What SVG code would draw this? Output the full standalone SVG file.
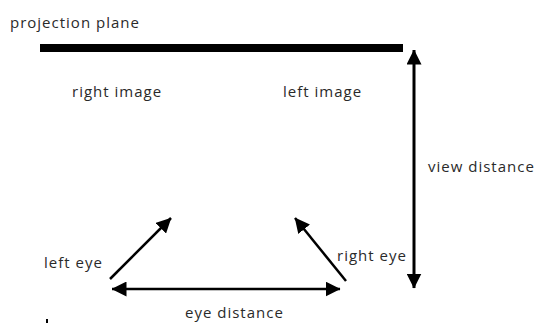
<svg xmlns="http://www.w3.org/2000/svg" width="537" height="323" viewBox="0 0 537 323">
<style>
text{font-family:"Open Sans","DejaVu Sans",sans-serif;font-size:15px;letter-spacing:1px;fill:#2a2a2a}
.c{stroke:#000;stroke-width:2.5;fill:none}
</style>
<defs>
<marker id="ah" markerWidth="15" markerHeight="15" viewBox="0 0 15 15" refX="14.5" refY="7.5" orient="auto-start-reverse" markerUnits="userSpaceOnUse"><path d="M0,0 L15,7.5 L0,15 Z" fill="#000"/></marker>
</defs>
<rect width="537" height="323" fill="#fff"/>
<g id="plane"><rect x="40" y="44" width="363" height="8" fill="#000"/><text x="10" y="28">projection plane</text></g>
<g id="right-image"><text x="72" y="97">right image</text></g>
<g id="left-image"><text x="283" y="97">left image</text></g>
<g id="view-distance"><text x="428" y="172">view distance</text></g>
<g id="left-eye"><text x="44" y="268">left eye</text></g>
<g id="right-eye"><text x="337" y="261">right eye</text></g>
<g id="eye-distance"><text x="185" y="318">eye distance</text></g>
<g id="mark"><rect x="46" y="319" width="2" height="4" fill="#000"/></g>
<g id="connectors">
<line class="c" x1="414" y1="50" x2="414" y2="288" style="stroke-width:3" marker-start="url(#ah)" marker-end="url(#ah)"/>
<line class="c" x1="112" y1="289" x2="340" y2="289" marker-start="url(#ah)" marker-end="url(#ah)"/>
<line class="c" x1="110" y1="279" x2="171" y2="218" marker-end="url(#ah)"/>
<line class="c" x1="346" y1="281" x2="295" y2="218" marker-end="url(#ah)"/>
</g>
</svg>
